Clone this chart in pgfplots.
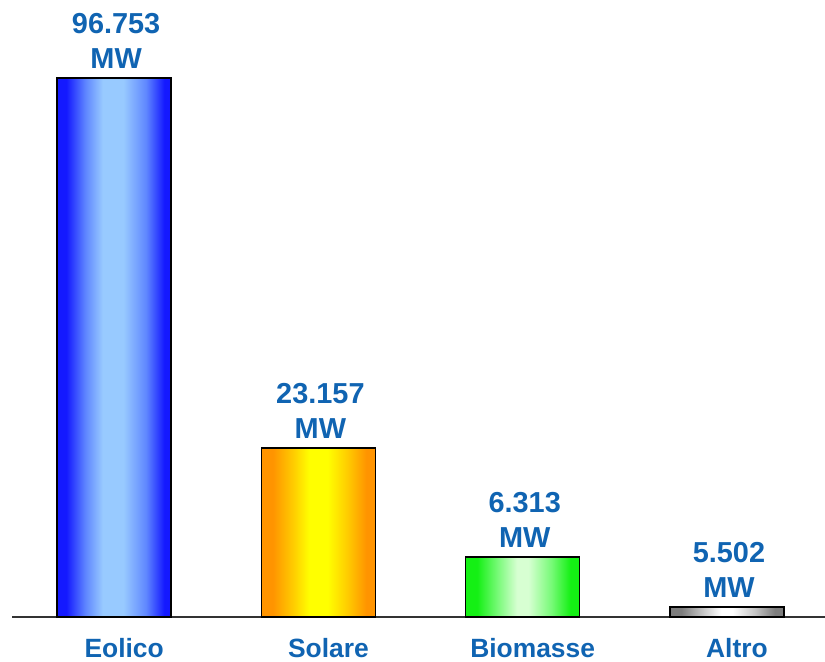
\documentclass[border=0pt]{standalone}
\usepackage{pgfplots}
\pgfplotsset{compat=1.18}
\usepackage{fontspec}
\setmainfont{Liberation Sans}
\definecolor{lblue}{RGB}{16,100,178}
\definecolor{eoE}{RGB}{20,25,255}
\definecolor{eoM}{RGB}{95,135,255}
\definecolor{eoC}{RGB}{152,202,255}
\definecolor{soE}{RGB}{255,148,0}
\definecolor{soM}{RGB}{255,205,0}
\definecolor{soC}{RGB}{255,255,0}
\definecolor{biE}{RGB}{20,240,20}
\definecolor{biM}{RGB}{120,250,120}
\definecolor{biC}{RGB}{215,255,210}
\definecolor{alE}{RGB}{125,125,125}
\definecolor{alM}{RGB}{195,195,195}
\definecolor{alC}{RGB}{255,255,255}
\pgfdeclarehorizontalshading{eosh}{100bp}{color(0bp)=(eoE); color(29bp)=(eoE); color(37.5bp)=(eoM); color(45bp)=(eoC); color(54bp)=(eoC); color(64bp)=(eoM); color(72bp)=(eoE); color(100bp)=(eoE)}
\pgfdeclarehorizontalshading{sosh}{100bp}{color(0bp)=(soE); color(30bp)=(soE); color(39bp)=(soM); color(46bp)=(soC); color(54bp)=(soC); color(62.5bp)=(soM); color(71bp)=(soE); color(100bp)=(soE)}
\pgfdeclarehorizontalshading{bish}{100bp}{color(0bp)=(biE); color(30bp)=(biE); color(39bp)=(biM); color(47.5bp)=(biC); color(52.5bp)=(biC); color(62.5bp)=(biM); color(71bp)=(biE); color(100bp)=(biE)}
\pgfdeclarehorizontalshading{alsh}{100bp}{color(0bp)=(alE); color(30bp)=(alE); color(39bp)=(alM); color(47.5bp)=(alC); color(52.5bp)=(alC); color(62.5bp)=(alM); color(71bp)=(alE); color(100bp)=(alE)}
\begin{document}
\begin{tikzpicture}
\path[use as bounding box] (-12bp,-45bp) rectangle (813bp,617bp);
\begin{axis}[
  at={(0,0)}, anchor=south west,
  scale only axis, width=813bp, height=617bp,
  xmin=-0.5, xmax=3.48, ymin=0, ymax=110.76,
  axis y line=none, axis x line=bottom,
  axis line style={-, draw=black!80, line width=1.5bp},
  xtick={0,1,2,3}, xticklabels={Eolico,Solare,Biomasse,Altro},
  major tick length=0pt,
  xticklabel style={font=\fontsize{26.5}{30}\selectfont\bfseries, text=lblue, yshift=-18bp, xshift=10bp},
  ybar, bar width=114bp, bar shift=0pt,
  nodes near coords, point meta=explicit symbolic,
  every node near coord/.append style={align=center, font=\fontsize{29}{35}\selectfont\bfseries, text=lblue, inner sep=4bp, yshift=5bp, xshift=2bp},
  clip=false,
]
\addplot[draw=black, line width=1.5bp, shade, shading=eosh] coordinates {(0,96.753) [96.753\\MW]};
\addplot[draw=black, line width=1.5bp, shade, shading=sosh] coordinates {(1,30.34) [23.157\\MW]};
\addplot[draw=black, line width=1.5bp, shade, shading=bish] coordinates {(2,10.77) [6.313\\MW]};
\addplot[draw=black, line width=1.5bp, shade, shading=alsh] coordinates {(3,1.8) [5.502\\MW]};
\end{axis}
\end{tikzpicture}
\end{document}
